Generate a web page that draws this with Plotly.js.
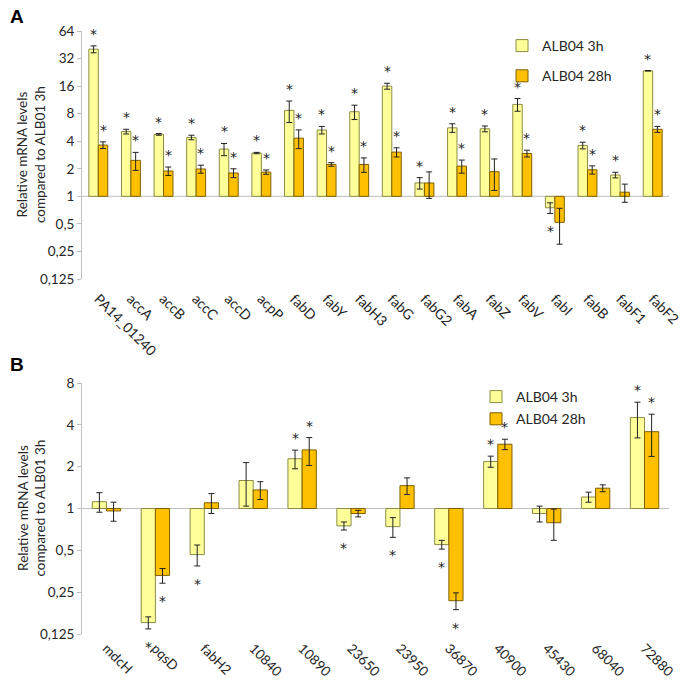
<!DOCTYPE html>
<html>
<head>
<meta charset="utf-8">
<script src="https://cdn.plot.ly/plotly-3.0.1.min.js"></script>
<style>
  html, body { margin: 0; padding: 0; background: #fff; }
  #chart { width: 683px; height: 686px; }
</style>
</head>
<body>
<div id="chart"></div>
<script>
// Panel A genes and values (fold change vs ALB01 3h)
const genesA = ['PA14_01240', 'accA', 'accB', 'accC', 'accD', 'acpP', 'fabD', 'fabY', 'fabH3',
    'fabG', 'fabG2', 'fabA', 'fabZ', 'fabV', 'fabI', 'fabB', 'fabF1', 'fabF2'];
const valsA3h = [40.5, 5.1, 4.75, 4.4, 3.28, 2.97, 8.7, 5.3, 8.4, 16, 1.4, 5.6, 5.47, 10.1, 0.75, 3.6, 1.71, 23.5];
const errA3h = [3.5, 0.3, 0.1, 0.25, 0.5, 0.05, 2.3, 0.5, 1.5, 1.2, 0.2, 0.6, 0.4, 1.6, 0.1, 0.3, 0.12, 0.1];
const valsA28h = [3.63, 2.47, 1.89, 1.99, 1.8, 1.84, 4.32, 2.23, 2.23, 3.04, 1.4, 2.14, 1.86, 2.94, 0.52, 1.95, 1.11, 5.4];
const errA28h = [0.3, 0.55, 0.2, 0.2, 0.2, 0.1, 1.0, 0.1, 0.4, 0.35, 0.45, 0.35, 0.7, 0.25, 0.22, 0.2, 0.25, 0.4];
const sigA3h = [1, 1, 1, 1, 1, 1, 1, 1, 1, 1, 1, 1, 1, 1, 1, 1, 1, 1];
const sigA28h = [1, 1, 1, 1, 1, 1, 1, 1, 1, 1, 0, 1, 0, 1, 0, 1, 0, 1];

// Panel B
const genesB = ['mdcH', 'pqsD', 'fabH2', '10840', '10890', '23650', '23950', '36870', '40900', '45430', '68040', '72880'];
const valsB3h = [1.12, 0.151, 0.466, 1.59, 2.28, 0.75, 0.74, 0.55, 2.18, 0.92, 1.21, 4.52];
const errB3h = [0.18, 0.015, 0.08, 0.55, 0.35, 0.05, 0.12, 0.04, 0.2, 0.12, 0.1, 1.3];
const valsB28h = [0.96, 0.33, 1.1, 1.36, 2.64, 0.92, 1.46, 0.217, 2.9, 0.79, 1.40, 3.57];
const errB28h = [0.15, 0.04, 0.18, 0.2, 0.6, 0.05, 0.2, 0.03, 0.25, 0.2, 0.08, 1.2];
const sigB3h = [0, 1, 1, 0, 1, 1, 1, 1, 1, 0, 0, 1];
const sigB28h = [0, 1, 0, 0, 1, 0, 0, 1, 1, 0, 0, 1];

const seriesNames = ['ALB04 3h', 'ALB04 28h'];
const tickValsA = [0.125, 0.25, 0.5, 1, 2, 4, 8, 16, 32, 64];
const tickTextA = ['0,125', '0,25', '0,5', '1', '2', '4', '8', '16', '32', '64'];
const tickValsB = [0.125, 0.25, 0.5, 1, 2, 4, 8];
const tickTextB = ['0,125', '0,25', '0,5', '1', '2', '4', '8'];
const yTitleText = 'Relative mRNA levels<br>compared to ALB01 3h';

const FONT = 'Lato, Carlito, sans-serif';
const fill3h = '#FFFF99', line3h = '#8C8C46';
const fill28h = '#FFC000', line28h = '#7F6000';
const axisGrey = '#BFBFBF';
const textCol = '#262626';
const BARGAP = 0.42;
const half = (1 - BARGAP) / 4; // offset of each bar centre from category centre

// bars grow from 1 (log axis), so base = 1 and size = v - 1
function barTrace(genes, vals, errs, name, fill, edge, xa, ya, legend, group) {
    return {
        type: 'bar',
        x: genes,
        y: vals.map(v => v - 1),
        base: 1,
        name: name,
        xaxis: xa, yaxis: ya,
        legend: legend,
        legendgroup: group,
        marker: { color: fill, line: { color: edge, width: 1 } },
        error_y: { type: 'data', array: errs, visible: true, color: '#222', thickness: 1, width: 3 },
        hoverinfo: 'skip'
    };
}

const data = [
    barTrace(genesA, valsA3h, errA3h, seriesNames[0], fill3h, line3h, 'x', 'y', 'legend', 'a1'),
    barTrace(genesA, valsA28h, errA28h, seriesNames[1], fill28h, line28h, 'x', 'y', 'legend', 'a2'),
    barTrace(genesB, valsB3h, errB3h, seriesNames[0], fill3h, line3h, 'x2', 'y2', 'legend2', 'b1'),
    barTrace(genesB, valsB28h, errB28h, seriesNames[1], fill28h, line28h, 'x2', 'y2', 'legend2', 'b2')
];

// significance stars above/below the error bars
const annotations = [];
function addStars(vals, errs, sig, offset, xref, yref) {
    vals.forEach((v, i) => {
        if (!sig[i]) return;
        const up = v >= 1;
        annotations.push({
            x: i + offset, xref: xref,
            y: Math.log10(up ? v + errs[i] : v - errs[i]), yref: yref,
            text: '*', showarrow: false,
            yanchor: up ? 'bottom' : 'top',
            yshift: up ? 2 : -8,
            font: { family: 'DejaVu Sans, sans-serif', size: 14, color: '#222' }
        });
    });
}
addStars(valsA3h, errA3h, sigA3h, -half, 'x', 'y');
addStars(valsA28h, errA28h, sigA28h, half, 'x', 'y');
addStars(valsB3h, errB3h, sigB3h, -half, 'x2', 'y2');
addStars(valsB28h, errB28h, sigB28h, half, 'x2', 'y2');

// panel letters
annotations.push({ text: '<b>A</b>', xref: 'paper', yref: 'paper', x: 8 / 683, y: 1 - 4 / 686,
    xanchor: 'left', yanchor: 'top', showarrow: false, font: { family: 'Liberation Sans, Arial', size: 19, color: '#000' } });
annotations.push({ text: '<b>B</b>', xref: 'paper', yref: 'paper', x: 8 / 683, y: 1 - 352 / 686,
    xanchor: 'left', yanchor: 'top', showarrow: false, font: { family: 'Liberation Sans, Arial', size: 19, color: '#000' } });

// y titles (placed by hand so they sit close to the tick labels, as in the original)
['y', 'y2'].forEach(ya => {
    annotations.push({ text: yTitleText, xref: 'paper', yref: ya + ' domain', x: 31 / 683, y: 0.5,
        xanchor: 'center', yanchor: 'middle', textangle: -90, showarrow: false,
        font: { family: FONT, size: 13.5, color: textCol } });
});

// category axis line at y = 1 with ticks on category boundaries
const shapes = [];
function baseLine(n, xref, yref) {
    shapes.push({ type: 'line', xref: xref + ' domain', yref: yref, x0: 0, x1: 1, y0: 1, y1: 1,
        line: { color: axisGrey, width: 1 }, layer: 'below' });
    for (let i = 0; i <= n; i++) {
        shapes.push({ type: 'line', xref: xref, yref: yref, ysizemode: 'pixel', yanchor: 1,
            x0: i - 0.5, x1: i - 0.5, y0: 0, y1: -4, line: { color: axisGrey, width: 1 }, layer: 'below' });
    }
}
baseLine(genesA.length, 'x', 'y');
baseLine(genesB.length, 'x2', 'y2');

const xDom = [82 / 683, 669 / 683];

function catAxis(anchor, genes, standoff, size) {
    return {
        domain: xDom, anchor: anchor, type: 'category',
        range: [-0.5, genes.length - 0.5],
        showline: false, showgrid: false, zeroline: false, ticks: '',
        tickangle: 45, ticklabelstandoff: standoff,
        tickfont: { family: FONT, size: size, color: textCol }
    };
}
function logAxis(anchor, dom, vals, text) {
    return {
        domain: dom, anchor: anchor, type: 'log',
        range: [Math.log10(vals[0]), Math.log10(vals[vals.length - 1])],
        tickmode: 'array', tickvals: vals, ticktext: text,
        showline: true, linecolor: axisGrey, linewidth: 1,
        ticks: 'outside', ticklen: 4, tickcolor: axisGrey,
        showgrid: false, zeroline: false,
        tickfont: { family: FONT, size: 13.5, color: textCol }
    };
}

const layout = {
    width: 683, height: 686,
    margin: { l: 0, r: 0, t: 0, b: 0 },
    paper_bgcolor: '#fff', plot_bgcolor: '#fff',
    font: { family: FONT, color: textCol },
    barmode: 'group', bargap: BARGAP, bargroupgap: 0,
    xaxis: catAxis('y', genesA, 8, 14),
    yaxis: logAxis('x', [1 - 279 / 686, 1 - 31 / 686], tickValsA, tickTextA),
    xaxis2: catAxis('y2', genesB, 3, 13.5),
    yaxis2: logAxis('x2', [1 - 634 / 686, 1 - 383 / 686], tickValsB, tickTextB),
    legend: { x: 502 / 683, y: 1 - 30 / 686, xanchor: 'left', yanchor: 'top', traceorder: 'grouped',
        tracegroupgap: 9, itemwidth: 30, bgcolor: 'rgba(0,0,0,0)', font: { family: FONT, size: 14, color: textCol } },
    legend2: { x: 476 / 683, y: 1 - 381 / 686, xanchor: 'left', yanchor: 'top', traceorder: 'grouped',
        tracegroupgap: 1, itemwidth: 30, bgcolor: 'rgba(0,0,0,0)', font: { family: FONT, size: 14, color: textCol } },
    annotations: annotations,
    shapes: shapes,
    showlegend: true
};

Plotly.newPlot('chart', data, layout, { displayModeBar: false, staticPlot: true });
</script>
</body>
</html>
